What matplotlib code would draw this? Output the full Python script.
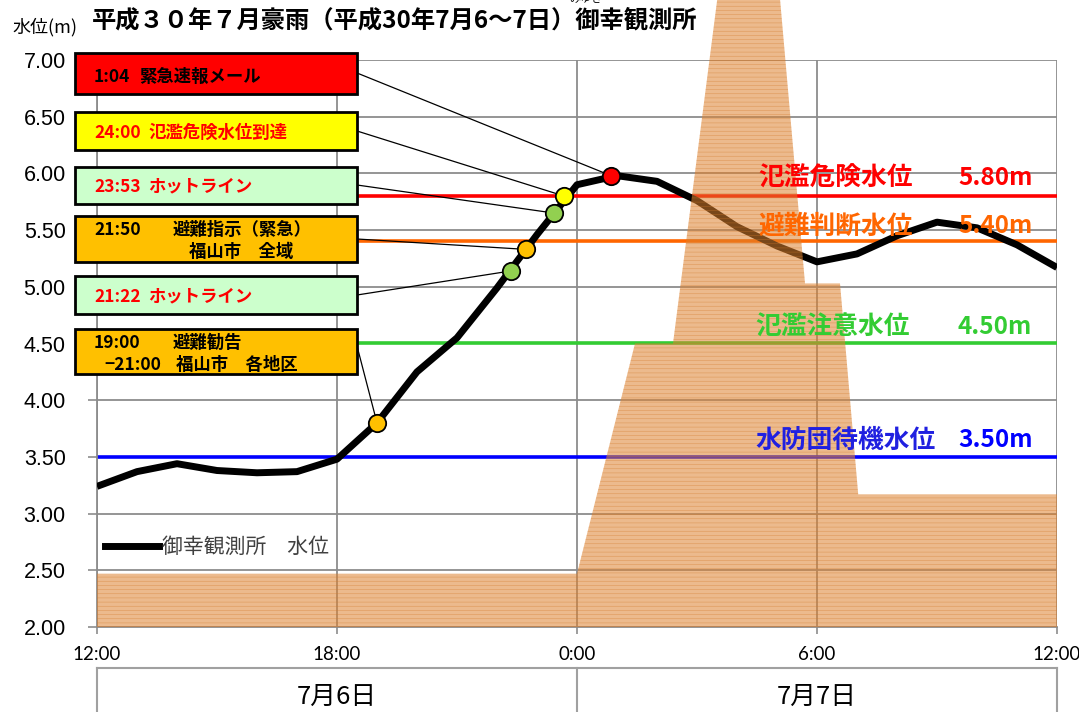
import matplotlib
matplotlib.use('Agg')
import matplotlib.pyplot as plt
from matplotlib.patches import Rectangle
from matplotlib.transforms import Affine2D
from matplotlib.lines import Line2D

plt.rcParams['font.family'] = ['Noto Sans CJK JP', 'DejaVu Sans']
plt.rcParams['hatch.linewidth'] = 0.4

W, H = 1079, 712

# ---------------- data ----------------
hours = list(range(25))  # hours after 12:00 on 7/6
level = [3.24, 3.37, 3.44, 3.38, 3.36, 3.37, 3.48, 3.80, 4.25, 4.55, 4.99, 5.46,
         5.90, 5.98, 5.93, 5.76, 5.53, 5.36, 5.22, 5.29, 5.45, 5.57, 5.52, 5.37, 5.17]

xtick_pos = [0, 6, 12, 18, 24]
xtick_labels = ['12:00', '18:00', '0:00', '6:00', '12:00']
ytick_vals = [2.0, 2.5, 3.0, 3.5, 4.0, 4.5, 5.0, 5.5, 6.0, 6.5, 7.0]
day_labels = ['7月6日', '7月7日']

# rainfall backdrop (drawn in water-level units)
rain_x = [0, 12.0, 13.45, 14.4, 15.53, 17.06, 17.7, 18.575, 19.03, 24, 24, 0]
rain_y = [2.47, 2.47, 4.50, 4.50, 7.60, 7.60, 5.03, 5.03, 3.17, 3.17, 2.0, 2.0]

thresh_names = ['氾濫危険水位', '避難判断水位', '氾濫注意水位', '水防団待機水位']
thresh_vals = [5.80, 5.40, 4.50, 3.50]
thresh_val_labels = ['5.80m', '5.40m', '4.50m', '3.50m']
thresh_colors = ['#FF0000', '#FF6600', '#33CC33', '#0000FF']
thresh_text_colors = ['#FF0000', '#FF6600', '#33CC33', '#2020E0']

event_hours = [12.85, 11.68, 11.43, 10.72, 10.35, 7.0]
event_levels = [5.98, 5.80, 5.65, 5.33, 5.14, 3.80]
event_marker_colors = ['#FF0000', '#FFFF00', '#92D050', '#FFC000', '#92D050', '#FFC000']
event_box_colors = ['#FF0000', '#FFFF00', '#CCFFCC', '#FFC000', '#CCFFCC', '#FFC000']
event_times = ['1:04', '24:00', '23:53', '21:50', '21:22', '19:00']
event_labels = ['緊急速報メール', '氾濫危険水位到達', 'ホットライン', '避難指示（緊急）',
                'ホットライン', '避難勧告']
event_sub = ['', '', '', '福山市　全域', '', '福山市　各地区']
event_text_colors = ['black', '#FF0000', '#FF0000', 'black', '#FF0000', 'black']

# ---------------- figure ----------------
fig = plt.figure(figsize=(W / 100, H / 100), dpi=100)
px = Affine2D().scale(1, -1).translate(0, H)  # image pixel coords (origin top-left)

ax = fig.add_axes([97 / W, 1 - 627 / H, 960 / W, 567 / H])
ax.set_xlim(0, 24)
ax.set_ylim(2.0, 7.0)

ax.set_xticks(xtick_pos)
ax.set_xticklabels(xtick_labels, fontsize=13.5, family='Lato')
ax.set_yticks(ytick_vals)
ax.set_yticklabels([f'{v:.2f}' for v in ytick_vals], fontsize=15.5, family='Liberation Sans')
ax.tick_params(axis='y', length=6.5, width=1.2, color='#8C8C8C', pad=16)
ax.tick_params(axis='x', length=5, width=1.2, color='#8C8C8C', pad=9)
ax.grid(True, color='#8C8C8C', linewidth=1.3, zorder=0)
ax.set_axisbelow(True)
for s in ['top', 'right']:
    ax.spines[s].set_visible(False)
for s in ['left', 'bottom']:
    ax.spines[s].set_color('#8C8C8C')
    ax.spines[s].set_linewidth(1.3)

# threshold lines
box_right_h = 6.5
for i, (v, c) in enumerate(zip(thresh_vals, thresh_colors)):
    x0 = 0 if i == 3 else box_right_h
    ax.hlines(v, x0, 24, color=c, linewidth=2.6, zorder=2)

# threshold labels
name_y = [178, 226, 327, 440]
name_x = [758, 758, 755, 755]
for i in range(4):
    fig.text(name_x[i], name_y[i], thresh_names[i], transform=px, ha='left', va='center',
             fontsize=18.5, fontweight='bold', color=thresh_text_colors[i], zorder=3)
    fig.text(958, name_y[i], thresh_val_labels[i], transform=px, ha='left', va='center',
             fontsize=17.5, fontweight='bold', color=thresh_colors[i], zorder=3)

# water level line
ax.plot(hours, level, color='black', linewidth=5, zorder=4, solid_capstyle='butt',
        label='御幸観測所　水位')

# event markers
for h, v, c in zip(event_hours, event_levels, event_marker_colors):
    ax.plot([h], [v], marker='o', markersize=12.5, markerfacecolor=c,
            markeredgecolor='black', markeredgewidth=1.3, zorder=5)

# rainfall backdrop on top, semi transparent
ax.fill(rain_x, rain_y, facecolor='#DE822F', alpha=0.55, edgecolor='#D27A2C',
        linewidth=0, hatch='----', zorder=6, clip_on=False)

# event boxes
box_tb = [(52.7, 94.3), (111.7, 150), (166.7, 204), (215.7, 261.7), (275.7, 314), (329.3, 374.3)]
leader_y = [73, 131, 185, 239, 295, 346]
text_y = [76.7, 132.7, 186.7, 230, 296.7, 343]
sub_y = [None, None, None, 252, None, 365]
label_x = [139, 148, 148, 173, 148, 173]
sub_x = [None, None, None, 189, None, 176]
for i in range(6):
    t, b = box_tb[i]
    fig.add_artist(Rectangle((75, b), 282, -(b - t), transform=px,
                             facecolor=event_box_colors[i], edgecolor='black', linewidth=2,
                             zorder=7))
    fig.text(94, text_y[i], event_times[i], transform=px, ha='left', va='center',
             fontsize=12.5, fontweight='bold', color=event_text_colors[i], zorder=8)
    fig.text(label_x[i], text_y[i], event_labels[i], transform=px, ha='left', va='center',
             fontsize=12.5, fontweight='bold', color=event_text_colors[i], zorder=8)
    if event_sub[i]:
        fig.text(sub_x[i], sub_y[i], event_sub[i], transform=px, ha='left', va='center',
                 fontsize=12.5, fontweight='bold', color=event_text_colors[i], zorder=8)
    # leader line
    ax.annotate('', xy=(event_hours[i], event_levels[i]), xycoords='data',
                xytext=(357, H - leader_y[i]), textcoords='figure pixels',
                arrowprops=dict(arrowstyle='-', color='black', linewidth=0.9,
                                shrinkA=0, shrinkB=6), zorder=4.5)
fig.text(104, 365, '−21:00', transform=px, ha='left', va='center',
         fontsize=12.5, fontweight='bold', color='black', zorder=8)

# legend
ax.legend(handles=[Line2D([0], [0], color='black', linewidth=5)],
          labels=['御幸観測所　水位'], loc='center left', bbox_to_anchor=(0.008, 0.141),
          frameon=False, borderaxespad=0, borderpad=0, handlelength=2.6,
          handletextpad=0.15, fontsize=15, labelcolor='#404040')

# titles
fig.text(92, 20, '平成３０年７月豪雨（平成30年7月6～7日）御幸観測所', transform=px,
         ha='left', va='center', fontsize=17.5, fontweight='bold', color='black')
fig.text(586, -1, 'みゆき', transform=px, ha='center', va='center', fontsize=8, color='black')
fig.text(12, 27, '水位(m)', transform=px, ha='left', va='center', fontsize=13, color='black')

# date boxes under the axis
gc = '#A0A0A0'
fig.add_artist(Line2D([97, 1057], [668, 668], color=gc, linewidth=1.5, transform=px))
for xv in [97, 577, 1057]:
    fig.add_artist(Line2D([xv, xv], [668, 715], color=gc, linewidth=1.5, transform=px))
for lab, xc in zip(day_labels, [337, 817]):
    fig.text(xc, 697, lab, transform=px, ha='center', va='center', fontsize=18.5, color='black')

fig.savefig('out.png', dpi=100)
